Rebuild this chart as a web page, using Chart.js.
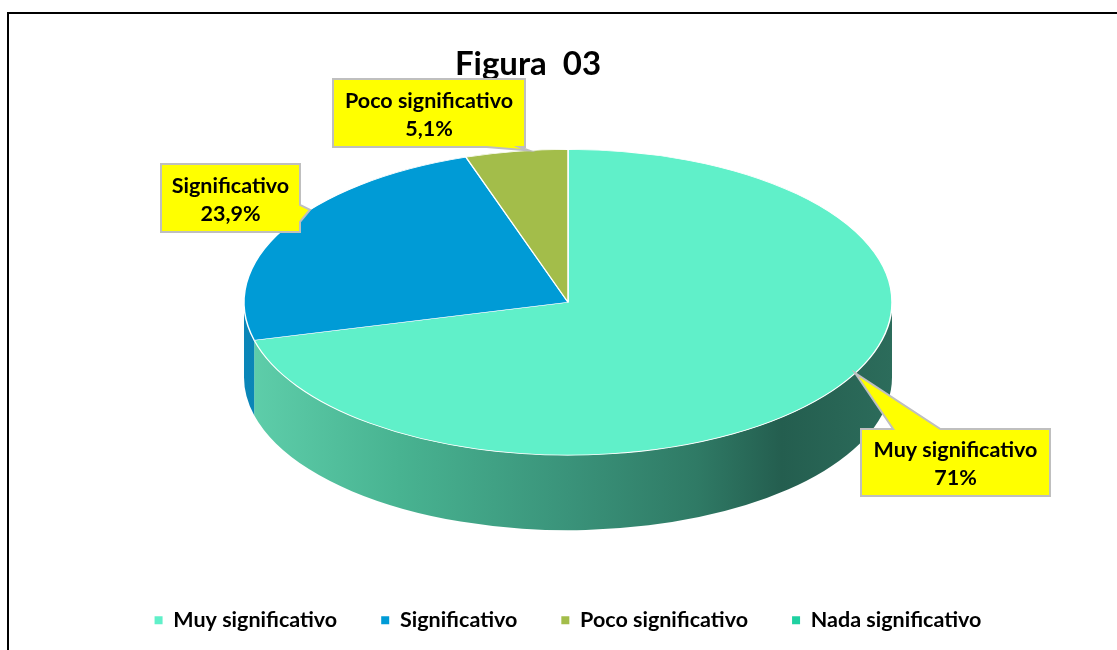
<!DOCTYPE html>
<html>
<head>
<meta charset="utf-8">
<script src="https://cdn.jsdelivr.net/npm/chart.js@4.4.0/dist/chart.umd.min.js"></script>
<style>
  html, body { margin: 0; padding: 0; background: #fff; overflow: hidden; }
  #wrap { position: relative; width: 1117px; height: 650px; }
  #frame { position: absolute; left: 7px; top: 12px; width: 1200px; height: 700px; border: 2px solid #000; pointer-events: none; }
  canvas { position: absolute; left: 0; top: 0; }
</style>
</head>
<body>
<div id="wrap">
  <canvas id="chart" width="1117" height="650"></canvas>
  <div id="frame"></div>
</div>
<script>
// datos de la figura
const categories = ['Muy significativo', 'Significativo', 'Poco significativo', 'Nada significativo'];
const percentages = [71, 23.9, 5.1, 0];
const sliceColors = ['#60f0c9', '#009bd6', '#a3bd4a', '#1fd1a1'];
const titleText = 'Figura  03';

// aspecto 3D
const tilt = 0.472;      // aplastamiento vertical de la tarta
const depth = 75;        // grosor del canto
const sideStops = [
  [[0, '#5fcfab'], [0.24, '#48b391'], [0.5, '#3a937a'], [0.7, '#2f7a65'], [0.83, '#245e4f'], [1, '#2c6c5b']],
  [[0, '#0a86b8'], [1, '#005f85']],
  [[0, '#8aa23c'], [1, '#6b7f2c']],
  [[0, '#19a882'], [1, '#12785d']]
];

// cuadros de etiqueta: [x, y, ancho, alto], lado de la flecha, base de la flecha, punto en el arco
const callouts = [
  { index: 0, box: [861, 429, 189, 67], side: 'top', base: [0.17, 0.42], tipFrac: 0.46 },
  { index: 1, box: [161, 164, 139, 68], side: 'right', base: [0.6, 0.85], tipFrac: 0.6 },
  { index: 2, box: [333, 79, 192, 68], side: 'bottom', base: [0.8, 0.97], tipFrac: 0.62 }
];

const FONT = 'Lato, "Open Sans", sans-serif';
const TEXT_SIZE = 21.5;

function fmtPct(v) {
  return v.toLocaleString('es-ES', { maximumFractionDigits: 1 }) + '%';
}

function frontSpan(a0, a1) {
  // parte visible del canto (angulos entre 0 y PI, con vuelta)
  const spans = [];
  [0, 2 * Math.PI].forEach(off => {
    const s = Math.max(a0, off), e = Math.min(a1, off + Math.PI);
    if (e > s) spans.push([s, e]);
  });
  return spans;
}

const pie3d = {
  id: 'pie3d',
  beforeDatasetsDraw(chart) {
    const ctx = chart.ctx;
    const arcs = chart.getDatasetMeta(0).data;
    if (!arcs.length) return;
    const cx = arcs[0].x, cy = arcs[0].y, r = arcs[0].outerRadius;

    arcs.forEach((arc, i) => {
      frontSpan(arc.startAngle, arc.endAngle).forEach(([s, e]) => {
        const g = ctx.createLinearGradient(cx - r, 0, cx + r, 0);
        sideStops[i].forEach(st => g.addColorStop(st[0], st[1]));
        ctx.beginPath();
        ctx.ellipse(cx, cy, r, r * tilt, 0, s, e, false);
        ctx.ellipse(cx, cy + depth, r, r * tilt, 0, e, s, true);
        ctx.closePath();
        ctx.fillStyle = g;
        ctx.fill();
      });
    });

    ctx.save();
    ctx.translate(cx, cy);
    ctx.scale(1, tilt);
    ctx.translate(-cx, -cy);
  },
  afterDatasetsDraw(chart) {
    const ctx = chart.ctx;
    ctx.restore();

    const arcs = chart.getDatasetMeta(0).data;
    const cx = arcs[0].x, cy = arcs[0].y, r = arcs[0].outerRadius;

    // titulo
    ctx.save();
    ctx.fillStyle = '#000';
    ctx.font = 'bold 33px ' + FONT;
    ctx.textAlign = 'center';
    ctx.textBaseline = 'middle';
    ctx.fillText(titleText, 528, 64);

    // etiquetas tipo globo
    callouts.forEach(c => {
      const arc = arcs[c.index];
      const a = arc.startAngle + c.tipFrac * (arc.endAngle - arc.startAngle);
      const tx = cx + r * Math.cos(a), ty = cy + r * tilt * Math.sin(a);
      const [x, y, w, h] = c.box;
      const [b0, b1] = c.base;

      ctx.beginPath();
      ctx.moveTo(x, y);
      if (c.side === 'top') {
        ctx.lineTo(x + w * b0, y); ctx.lineTo(tx, ty); ctx.lineTo(x + w * b1, y);
      }
      ctx.lineTo(x + w, y);
      if (c.side === 'right') {
        ctx.lineTo(x + w, y + h * b0); ctx.lineTo(tx, ty); ctx.lineTo(x + w, y + h * b1);
      }
      ctx.lineTo(x + w, y + h);
      if (c.side === 'bottom') {
        ctx.lineTo(x + w * b1, y + h); ctx.lineTo(tx, ty); ctx.lineTo(x + w * b0, y + h);
      }
      ctx.lineTo(x, y + h);
      ctx.closePath();
      ctx.fillStyle = '#ffff00';
      ctx.fill();
      ctx.lineWidth = 2;
      ctx.strokeStyle = '#bfbfbf';
      ctx.stroke();

      ctx.fillStyle = '#000';
      ctx.font = 'bold ' + TEXT_SIZE + 'px ' + FONT;
      ctx.fillText(categories[c.index], x + w / 2, y + h * 0.32);
      ctx.fillText(fmtPct(percentages[c.index]), x + w / 2, y + h * 0.73);
    });
    ctx.restore();
  }
};

new Chart(document.getElementById('chart'), {
  type: 'pie',
  data: {
    labels: categories,
    datasets: [{
      data: percentages,
      backgroundColor: sliceColors,
      borderColor: '#ffffff',
      borderWidth: 1.5,
      radius: 324,
      clip: false
    }]
  },
  options: {
    responsive: false,
    animation: false,
    events: [],
    layout: { padding: { top: 39, bottom: 9, left: 19, right: 0 } },
    plugins: {
      title: { display: false },
      tooltip: { enabled: false },
      legend: {
        position: 'bottom',
        labels: {
          color: '#000',
          font: { family: FONT, size: TEXT_SIZE, weight: 'bold' },
          boxWidth: 8,
          boxHeight: 8,
          padding: 44,
          generateLabels(chart) {
            const items = Chart.overrides.pie.plugins.legend.labels.generateLabels(chart);
            items.forEach(it => { it.lineWidth = 0; it.strokeStyle = 'rgba(0,0,0,0)'; it.hidden = false; });
            return items;
          }
        }
      }
    }
  },
  plugins: [pie3d]
});
</script>
</body>
</html>
